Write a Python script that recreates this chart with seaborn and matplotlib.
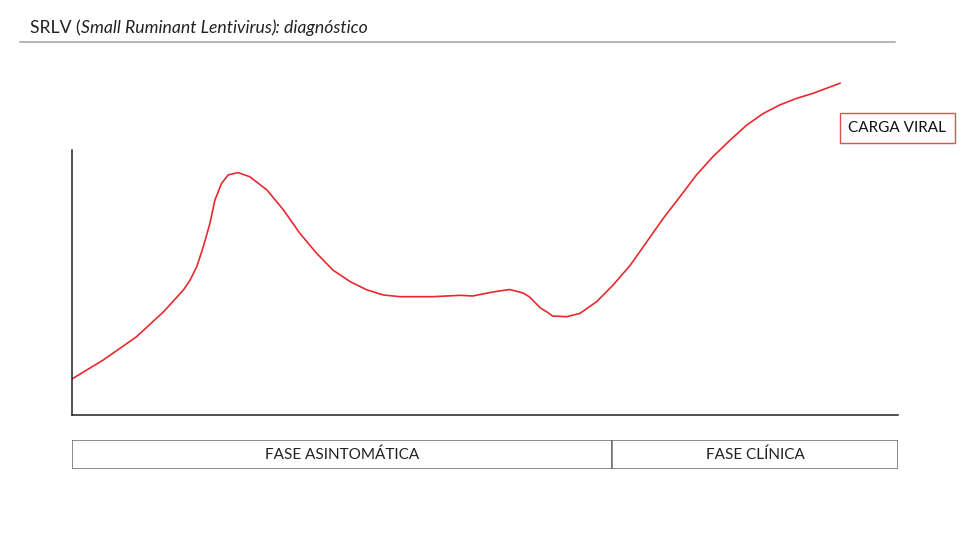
import matplotlib
matplotlib.use("Agg")
import matplotlib.pyplot as plt
import seaborn as sns
import pandas as pd

# ── Data ──────────────────────────────────────────────────────────────────────
# time (arbitrary units, 0-100) and viral load (arbitrary units, 0-100)
tiempo = [0.0, 3.8, 7.8, 11.1, 13.5, 14.3, 15.1, 15.9, 16.7, 17.3, 18.1, 18.9,
          20.1, 21.5, 23.6, 25.6, 27.6, 29.6, 31.6, 33.7, 35.7, 37.7, 39.7,
          43.7, 47.0, 48.5, 50.6, 51.8, 53.0, 54.6, 55.4, 56.7, 57.5, 58.2,
          59.1, 59.9, 61.5, 63.5, 65.5, 67.6, 69.6, 71.6, 73.6, 75.6, 77.6,
          79.7, 81.7, 83.7, 85.7, 87.7, 89.7, 93.0]
carga = [10.6, 16.2, 23.0, 30.4, 36.8, 39.7, 43.6, 49.5, 56.4, 63.2, 68.1, 70.6,
         71.3, 70.1, 66.2, 60.3, 53.4, 47.6, 42.6, 39.2, 36.8, 35.3, 34.8,
         34.8, 35.2, 35.0, 36.0, 36.5, 36.9, 35.9, 34.7, 31.5, 30.3, 29.1,
         29.0, 28.9, 29.9, 33.3, 38.2, 44.1, 51.0, 57.9, 64.2, 70.6, 76.0,
         80.9, 85.3, 88.7, 91.2, 93.1, 94.6, 97.6]

fases        = ["FASE ASINTOMÁTICA", "FASE CLÍNICA"]
fase_inicio  = [0, 65.4]
fase_fin     = [65.4, 100]

TITULO_PARTES = [("SRLV (", "normal"),
                 ("Small Ruminant Lentivirus", "italic"),
                 ("): diagnóstico", "italic")]
ETIQUETA = "CARGA VIRAL"

# ── Style ─────────────────────────────────────────────────────────────────────
sns.set_theme(style="white")
plt.rcParams["font.family"] = ["Lato", "DejaVu Sans"]

W, H = 980, 551
fig = plt.figure(figsize=(W / 100, H / 100), dpi=100)
fig.patch.set_facecolor("white")


def frac_box(x0, y0, x1, y1):
    # pixel box (top-left origin) -> figure fraction rect
    return [x0 / W, 1 - y1 / H, (x1 - x0) / W, (y1 - y0) / H]


# ── Main curve ────────────────────────────────────────────────────────────────
ax = fig.add_axes(frac_box(72, 75, 898, 415))
df = pd.DataFrame({"tiempo": tiempo, "carga": carga})
sns.lineplot(data=df, x="tiempo", y="carga", ax=ax, color="#e62a2f",
             linewidth=1.2, sort=False, solid_joinstyle="round",
             solid_capstyle="round")
ax.set_xlim(0, 100)
ax.set_ylim(0, 100)
ax.set_xticks([])
ax.set_yticks([])
ax.set_xlabel("")
ax.set_ylabel("")
ax.set_facecolor("none")
for s in ["top", "right"]:
    ax.spines[s].set_visible(False)
for s in ["left", "bottom"]:
    ax.spines[s].set_color("#202020")
    ax.spines[s].set_linewidth(1.1)
ax.spines["left"].set_bounds(0, 78)

ax.text(99.9, 84.4, ETIQUETA, ha="center", va="center", fontsize=11,
        color="#111111",
        bbox=dict(boxstyle="square,pad=0.55", fc="white", ec="#e05050", lw=1))

# ── Phase bar ─────────────────────────────────────────────────────────────────
axp = fig.add_axes(frac_box(72, 440, 898, 469))
axp.barh([0] * len(fases), [f - i for i, f in zip(fase_inicio, fase_fin)],
         left=fase_inicio, height=1, color="white", edgecolor="#6e6e6e",
         linewidth=1.1)
for nombre, i, f in zip(fases, fase_inicio, fase_fin):
    axp.text((i + f) / 2, 0, nombre, ha="center", va="center", fontsize=11,
             color="#222222")
axp.set_xlim(0, 100)
axp.set_ylim(-0.5, 0.5)
axp.axis("off")

# ── Title ─────────────────────────────────────────────────────────────────────
fig.add_artist(plt.Line2D([20 / W, 895 / W], [1 - 42 / H, 1 - 42 / H],
                          color="#b4b4b4", linewidth=1.4))
renderer = fig.canvas.get_renderer()
x = 30 / W
for txt, style in TITULO_PARTES:
    t = fig.text(x, 1 - 33 / H, txt, fontsize=12.7, style=style,
                 color="#222222", va="baseline", ha="left")
    bb = t.get_window_extent(renderer=renderer)
    x += bb.width / W

fig.savefig("out.png", dpi=100, facecolor="white")
